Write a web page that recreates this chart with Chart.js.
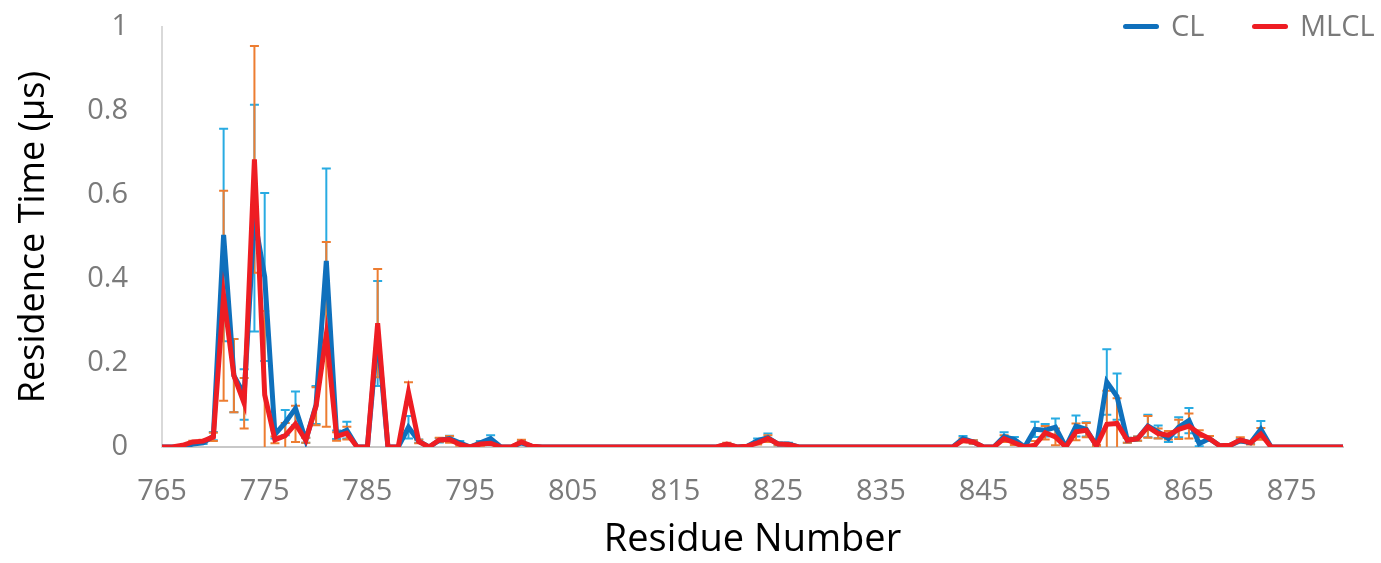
<!DOCTYPE html>
<html>
<head>
<meta charset="utf-8">
<script src="https://cdn.jsdelivr.net/npm/chart.js@4.4.0/dist/chart.umd.min.js"></script>
<style>
  body { margin: 0; background: #fff; }
  #wrap { position: relative; width: 1381px; height: 563px; }
  .legend { position: absolute; top: 7px; font-family: "Open Sans", sans-serif; font-size: 29px; color: #7a7a7a; line-height: 36px; }
  .legend span.swatch { display: inline-block; width: 36px; height: 5px; border-radius: 3px; vertical-align: middle; margin-right: 12px; position: relative; top: -2px; }
</style>
</head>
<body>
<div id="wrap">
  <canvas id="myChart" width="1381" height="563"></canvas>
  <div class="legend" style="left:1123px"><span class="swatch" style="background:#0f70bc"></span>CL</div>
  <div class="legend" style="left:1252px"><span class="swatch" style="background:#ee1d23"></span>MLCL</div>
</div>
<script>
// residue numbers 765..880
var residues = [
  765, 766, 767, 768, 769, 770, 771, 772, 773, 774,
  775, 776, 777, 778, 779, 780, 781, 782, 783, 784,
  785, 786, 787, 788, 789, 790, 791, 792, 793, 794,
  795, 796, 797, 798, 799, 800, 801, 802, 803, 804,
  805, 806, 807, 808, 809, 810, 811, 812, 813, 814,
  815, 816, 817, 818, 819, 820, 821, 822, 823, 824,
  825, 826, 827, 828, 829, 830, 831, 832, 833, 834,
  835, 836, 837, 838, 839, 840, 841, 842, 843, 844,
  845, 846, 847, 848, 849, 850, 851, 852, 853, 854,
  855, 856, 857, 858, 859, 860, 861, 862, 863, 864,
  865, 866, 867, 868, 869, 870, 871, 872, 873, 874,
  875, 876, 877, 878, 879, 880
];

var clValues = [
  0, 0, 0, 0.007, 0.01, 0.026, 0.505, 0.17, 0.125, 0.545,
  0.405, 0.03, 0.058, 0.092, 0.016, 0.1, 0.443, 0.029, 0.04, 0,
  0, 0.27, 0, 0, 0.047, 0.014, 0, 0.016, 0.02, 0.01,
  0, 0.01, 0.02, 0, 0, 0.01, 0.002, 0, 0, 0,
  0, 0, 0, 0, 0, 0, 0, 0, 0, 0,
  0, 0, 0, 0, 0, 0.006, 0, 0.002, 0.015, 0.022,
  0.007, 0.007, 0, 0, 0, 0, 0, 0, 0, 0,
  0, 0, 0, 0, 0, 0, 0, 0, 0.02, 0.012,
  0, 0, 0.025, 0.018, 0, 0.042, 0.04, 0.047, 0, 0.05,
  0.042, 0.003, 0.155, 0.12, 0.016, 0.02, 0.05, 0.036, 0.02, 0.047,
  0.063, 0.008, 0.02, 0.003, 0.004, 0.015, 0.01, 0.042, 0, 0,
  0, 0, 0, 0, 0, 0
];

var clErrors = [
  0, 0, 0, 0.002, 0.003, 0.01, 0.253, 0.087, 0.06, 0.27,
  0.2, 0.01, 0.03, 0.04, 0.006, 0.045, 0.22, 0.01, 0.02, 0,
  0, 0.125, 0, 0, 0.027, 0.004, 0, 0.005, 0.007, 0.004,
  0, 0.004, 0.008, 0, 0, 0.004, 0, 0, 0, 0,
  0, 0, 0, 0, 0, 0, 0, 0, 0, 0,
  0, 0, 0, 0, 0, 0.003, 0, 0, 0.005, 0.01,
  0.003, 0.003, 0, 0, 0, 0, 0, 0, 0, 0,
  0, 0, 0, 0, 0, 0, 0, 0, 0.006, 0.004,
  0, 0, 0.01, 0.006, 0, 0.018, 0.015, 0.021, 0, 0.025,
  0.017, 0.002, 0.078, 0.055, 0.006, 0.005, 0.027, 0.015, 0.008, 0.024,
  0.03, 0.006, 0.006, 0, 0, 0.004, 0.003, 0.02, 0, 0,
  0, 0, 0, 0, 0, 0
];

var mlclValues = [
  0, 0, 0.004, 0.012, 0.014, 0.024, 0.36, 0.17, 0.104, 0.685,
  0.124, 0.017, 0.027, 0.055, 0.016, 0.097, 0.268, 0.025, 0.033, 0,
  0, 0.295, 0, 0, 0.13, 0.013, 0, 0.017, 0.018, 0.006,
  0, 0.007, 0.009, 0, 0, 0.012, 0.002, 0, 0, 0,
  0, 0, 0, 0, 0, 0, 0, 0, 0, 0,
  0, 0, 0, 0, 0, 0.007, 0, 0.002, 0.01, 0.02,
  0.007, 0.006, 0, 0, 0, 0, 0, 0, 0, 0,
  0, 0, 0, 0, 0, 0, 0, 0, 0.016, 0.012,
  0, 0, 0.02, 0.01, 0, 0.004, 0.034, 0.024, 0, 0.036,
  0.04, 0.003, 0.054, 0.056, 0.016, 0.02, 0.048, 0.032, 0.028, 0.042,
  0.05, 0.032, 0.02, 0.003, 0.004, 0.017, 0.01, 0.031, 0, 0,
  0, 0, 0, 0, 0, 0
];

var mlclErrors = [
  0, 0, 0, 0.003, 0.003, 0.01, 0.25, 0.087, 0.06, 0.27,
  0.2, 0.008, 0.03, 0.043, 0.006, 0.045, 0.22, 0.01, 0.015, 0,
  0, 0.129, 0, 0, 0.024, 0.004, 0, 0.005, 0.008, 0.003,
  0, 0.004, 0.004, 0, 0, 0.005, 0, 0, 0, 0,
  0, 0, 0, 0, 0, 0, 0, 0, 0, 0,
  0, 0, 0, 0, 0, 0.003, 0, 0, 0.004, 0.008,
  0.003, 0.002, 0, 0, 0, 0, 0, 0, 0, 0,
  0, 0, 0, 0, 0, 0, 0, 0, 0.005, 0.004,
  0, 0, 0.008, 0.005, 0, 0.01, 0.016, 0.02, 0, 0.02,
  0.017, 0.002, 0.08, 0.06, 0.006, 0.005, 0.026, 0.012, 0.01, 0.023,
  0.03, 0.008, 0.006, 0, 0, 0.006, 0.004, 0.014, 0, 0,
  0, 0, 0, 0, 0, 0
];

var tickColor = '#7a7a7a';

// draws the error bars behind the lines, using the chart's own scales
var errorBars = {
  id: 'errorBars',
  beforeDatasetsDraw: function (chart) {
    var ctx = chart.ctx;
    var area = chart.chartArea;
    var xs = chart.scales.x, ys = chart.scales.y;
    ctx.save();
    ctx.beginPath();
    ctx.rect(area.left, area.top - 40, area.right - area.left, area.bottom - area.top + 40);
    ctx.clip();
    chart.data.datasets.forEach(function (ds) {
      ctx.strokeStyle = ds.errorColor;
      ctx.lineWidth = 2;
      ds.data.forEach(function (v, i) {
        var e = ds.errors[i];
        if (!e) return;
        var x = xs.getPixelForValue(i);
        var top = ys.getPixelForValue(v + e);
        var lowVal = v - e;
        var bot = ys.getPixelForValue(Math.max(lowVal, 0));
        ctx.beginPath();
        ctx.moveTo(x, top);
        ctx.lineTo(x, bot);
        ctx.moveTo(x - 4.5, top);
        ctx.lineTo(x + 4.5, top);
        if (lowVal >= 0) {
          ctx.moveTo(x - 4.5, bot);
          ctx.lineTo(x + 4.5, bot);
        }
        ctx.stroke();
      });
    });
    ctx.restore();
  }
};

var chartContext = document.getElementById('myChart').getContext('2d');
var myChart = new Chart(chartContext, {
  type: 'line',
  data: {
    labels: residues,
    datasets: [{
      label: 'CL',
      data: clValues,
      errors: clErrors,
      errorColor: '#29abe2',
      borderColor: '#0f70bc',
      backgroundColor: '#0f70bc',
      borderWidth: 5,
      pointRadius: 0,
      tension: 0,
      order: 2
    }, {
      label: 'MLCL',
      data: mlclValues,
      errors: mlclErrors,
      errorColor: '#ed7d31',
      borderColor: '#ee1d23',
      backgroundColor: '#ee1d23',
      borderWidth: 5,
      pointRadius: 0,
      tension: 0,
      order: 1
    }]
  },
  options: {
    responsive: false,
    animation: false,
    layout: { padding: { top: 27, right: 38, left: 0, bottom: 0 } },
    plugins: {
      legend: { display: false },
      tooltip: { enabled: false }
    },
    scales: {
      x: {
        offset: false,
        grid: { display: false, drawTicks: false },
        border: { display: true, color: '#c8c8c8', width: 2 },
        ticks: {
          autoSkip: false,
          maxRotation: 0,
          padding: 27,
          color: tickColor,
          font: { family: 'Open Sans', size: 29 },
          callback: function (val, idx) {
            var r = residues[idx];
            return (r - 765) % 10 === 0 ? String(r) : '';
          }
        },
        title: {
          display: true,
          text: 'Residue Number',
          color: '#000',
          font: { family: 'Open Sans', size: 38 },
          padding: { top: 0, bottom: 0 }
        },
        afterFit: function (s) { s.height = 116; }
      },
      y: {
        min: 0,
        max: 1,
        grid: { display: false, drawTicks: false },
        border: { display: true, color: '#d9d9d9', width: 2 },
        ticks: {
          stepSize: 0.2,
          padding: 34,
          color: tickColor,
          font: { family: 'Open Sans', size: 29 },
          callback: function (v) { return String(Math.round(v * 10) / 10); }
        },
        title: {
          display: true,
          text: 'Residence Time (µs)',
          color: '#000',
          font: { family: 'Open Sans', size: 36 },
          padding: { top: 12, bottom: 0 }
        },
        afterFit: function (s) {
          s.width = 162;
          s.paddingTop = 0;
          s.paddingBottom = 0;
        }
      }
    }
  },
  plugins: [errorBars]
});
</script>
</body>
</html>
